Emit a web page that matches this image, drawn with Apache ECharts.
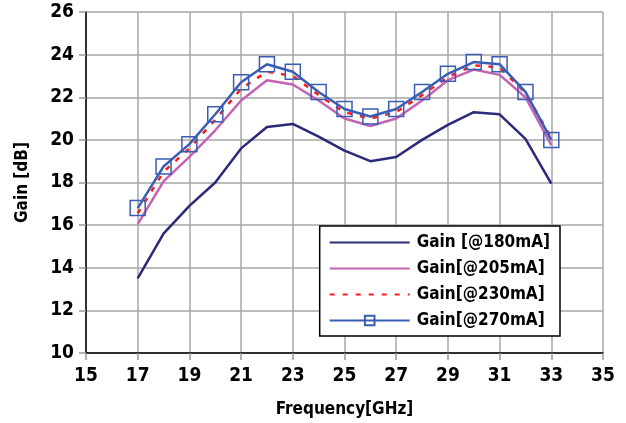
<!DOCTYPE html>
<html>
<head>
<meta charset="utf-8">
<script src="https://cdn.jsdelivr.net/npm/echarts@6/dist/echarts.min.js"></script>
<style>
  html, body { margin: 0; padding: 0; background: #fff; }
  #chart { width: 626px; height: 423px; }
</style>
</head>
<body>
<div id="chart"></div>
<script>
// Frequency points (GHz)
const freq = [17, 18, 19, 20, 21, 22, 23, 24, 25, 26, 27, 28, 29, 30, 31, 32, 33];

// Gain (dB) at each bias current
const gain180 = [13.5, 15.6, 16.9, 18.0, 19.6, 20.6, 20.75, 20.15, 19.5, 19.0, 19.2, 20.0, 20.7, 21.3, 21.2, 20.05, 17.95];
const gain205 = [16.05, 18.05, 19.2, 20.45, 21.85, 22.8, 22.6, 21.85, 21.0, 20.65, 21.0, 21.85, 22.8, 23.3, 23.05, 22.0, 19.75];
const gain230 = [16.55, 18.5, 19.6, 20.95, 22.4, 23.2, 23.0, 22.1, 21.3, 21.0, 21.3, 22.1, 22.95, 23.5, 23.4, 22.2, 20.1];
const gain270 = [16.8, 18.75, 19.8, 21.2, 22.7, 23.55, 23.2, 22.25, 21.45, 21.1, 21.45, 22.25, 23.1, 23.65, 23.55, 22.25, 20.0];

const seriesNames = ['Gain [@180mA]', 'Gain[@205mA]', 'Gain[@230mA]', 'Gain[@270mA]'];

const FONT = '"DejaVu Sans Condensed", "Liberation Sans", sans-serif';

const pairs = arr => freq.map((f, i) => [f, arr[i]]);

const chart = echarts.init(document.getElementById('chart'), null, { renderer: 'canvas' });

chart.setOption({
  animation: false,
  backgroundColor: '#fff',
  grid: { left: 86, right: 23, top: 12, bottom: 70 },
  xAxis: {
    type: 'value',
    min: 15, max: 35, interval: 2,
    name: 'Frequency[GHz]',
    nameLocation: 'middle',
    nameGap: 48,
    nameTextStyle: { fontFamily: FONT, fontWeight: 'bold', fontSize: 17, color: '#000' },
    axisLine: { show: true, onZero: false, lineStyle: { color: '#000', width: 1.5 } },
    axisTick: { show: true, length: 7, lineStyle: { color: '#999', width: 1.5 } },
    axisLabel: { fontFamily: FONT, fontWeight: 'bold', fontSize: 19, color: '#000', margin: 14 },
    splitLine: { show: true, lineStyle: { color: '#a6a6a6', width: 1.5 } }
  },
  yAxis: {
    type: 'value',
    min: 10, max: 26, interval: 2,
    name: 'Gain [dB]',
    nameLocation: 'middle',
    nameGap: 55,
    nameTextStyle: { fontFamily: FONT, fontWeight: 'bold', fontSize: 17, color: '#000' },
    axisLine: { show: true, onZero: false, lineStyle: { color: '#000', width: 1.5 } },
    axisTick: { show: true, length: 7, lineStyle: { color: '#999', width: 1.5 } },
    axisLabel: { fontFamily: FONT, fontWeight: 'bold', fontSize: 19, color: '#000', margin: 12 },
    splitLine: { show: true, lineStyle: { color: '#a6a6a6', width: 1.5 } }
  },
  legend: {
    orient: 'vertical',
    right: 66,
    top: 226,
    padding: [8, 10, 7, 9],
    itemGap: 9,
    itemWidth: 80,
    itemHeight: 12,
    backgroundColor: '#fff',
    borderColor: '#000',
    borderWidth: 1.5,
    borderRadius: 0,
    textStyle: { fontFamily: FONT, fontWeight: 'bold', fontSize: 17, color: '#000', padding: [0, 0, 0, 2] },
    data: [
      { name: seriesNames[0], itemStyle: { opacity: 0 } },
      { name: seriesNames[1], itemStyle: { opacity: 0 } },
      { name: seriesNames[2], itemStyle: { opacity: 0 } },
      { name: seriesNames[3] }
    ]
  },
  series: [
    {
      name: seriesNames[0], type: 'line', data: pairs(gain180),
      symbol: 'none', color: '#2a2a78',
      lineStyle: { color: '#2a2a78', width: 2.5 }
    },
    {
      name: seriesNames[1], type: 'line', data: pairs(gain205),
      symbol: 'none', color: '#c462b4',
      lineStyle: { color: '#c462b4', width: 2.5 }
    },
    {
      name: seriesNames[2], type: 'line', data: pairs(gain230),
      symbol: 'none', color: '#ff1a1a',
      lineStyle: { color: '#ff1a1a', width: 2.5, type: [5, 8] }
    },
    {
      name: seriesNames[3], type: 'line', data: pairs(gain270),
      symbol: 'rect', symbolSize: 15, color: '#3a5db4',
      itemStyle: { color: 'rgba(255,255,255,0)', borderColor: '#3a5db4', borderWidth: 1.5 },
      lineStyle: { color: '#3a5db4', width: 2.5 }
    }
  ]
});
</script>
</body>
</html>
